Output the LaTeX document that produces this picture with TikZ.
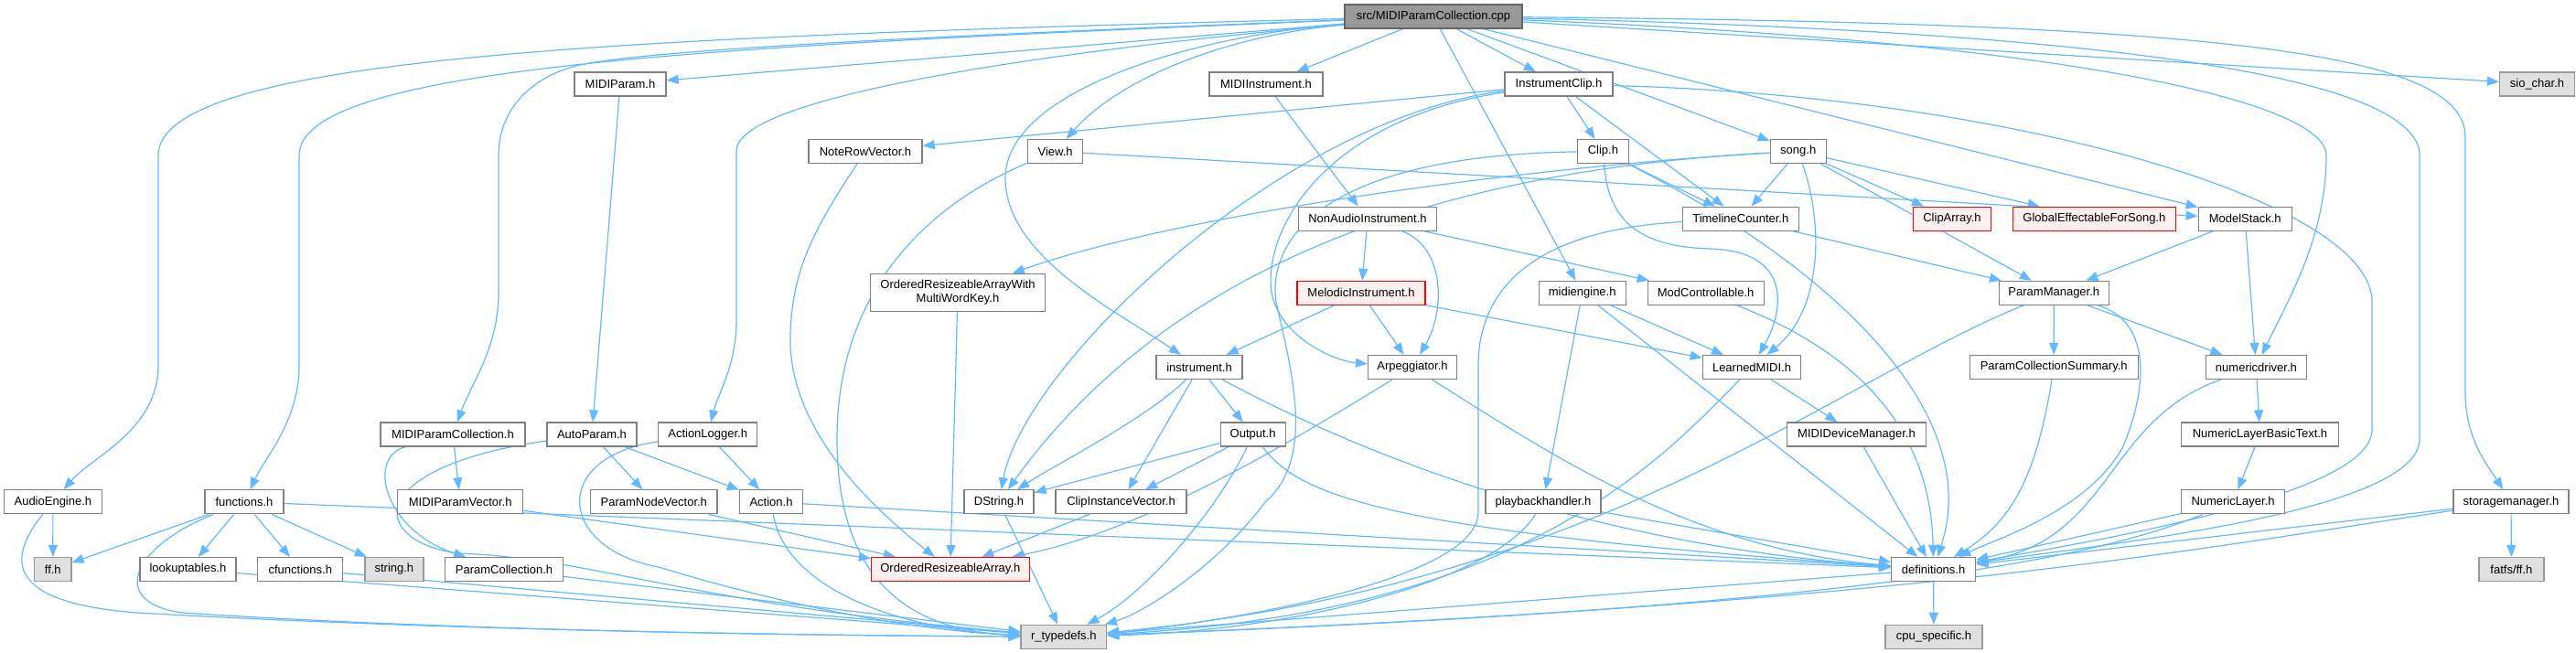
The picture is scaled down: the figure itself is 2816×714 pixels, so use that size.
\documentclass[tikz,border=0pt]{standalone}
\usepackage{fontspec}
\setmainfont{Liberation Sans}
\usetikzlibrary{arrows.meta}
\definecolor{edgec}{HTML}{63B8FF}
\definecolor{boxc}{HTML}{808080}
\definecolor{rootf}{HTML}{999999}
\definecolor{extf}{HTML}{E0E0E0}
\definecolor{extd}{HTML}{999999}
\definecolor{redf}{HTML}{FFF0F0}
\pgfdeclarelayer{edges}
\pgfsetlayers{edges,main}
\tikzset{
  box/.style={draw=boxc, fill=white, line width=1.2pt, minimum height=26pt, inner sep=0pt, font=\fontsize{13}{15}\selectfont},
  redbox/.style={box, draw=red, fill=redf},
  extbox/.style={box, draw=extd, fill=extf},
  rootbox/.style={box, draw=boxc!80!black, fill=rootf},
  e/.style={draw=edgec, line width=1.2pt, -{Triangle[length=13pt,width=10pt]}}
}
\begin{document}
\begin{tikzpicture}[x=1pt,y=-1pt]
\useasboundingbox (0,0) rectangle (2816,714);
% nodes
\node[rootbox, minimum width=194pt] (root) at (1567,18) {src/MIDIParamCollection.cpp};
\node[box, minimum width=100pt] (MIDIParam) at (678,92) {MIDIParam.h};
\node[box, minimum width=124pt] (MIDIInstrument) at (1384,92) {MIDIInstrument.h};
\node[box, minimum width=118pt] (InstrumentClip) at (1704,92) {InstrumentClip.h};
\node[extbox, minimum width=82pt] (sio) at (2773.5,92) {sio\_char.h};
\node[box, minimum width=124pt] (NoteRowVector) at (946,165.5) {NoteRowVector.h};
\node[box, minimum width=60pt] (View) at (1153.6,165.5) {View.h};
\node[box, minimum width=56pt] (Clip) at (1752.4,165.5) {Clip.h};
\node[box, minimum width=61pt] (song) at (1965.7,165.5) {song.h};
\node[box, minimum width=151pt] (NonAudio) at (1495,239.2) {NonAudioInstrument.h};
\node[box, minimum width=127pt] (Timeline) at (1902.8,239.2) {TimelineCounter.h};
\node[redbox, minimum width=85pt] (ClipArray) at (2134,239.2) {ClipArray.h};
\node[redbox, minimum width=178.6pt] (GlobalEff) at (2289.4,239.2) {GlobalEffectableForSong.h};
\node[box, minimum width=102pt] (ModelStack) at (2454.2,239.2) {ModelStack.h};
\node[box, minimum width=190.6pt, minimum height=41.4pt, align=center] (ORAW) at (1047,320) {OrderedResizeableArrayWith\\MultiWordKey.h};
\node[redbox, minimum width=140pt] (Melodic) at (1488,320.3) {MelodicInstrument.h};
\node[box, minimum width=95pt] (midiengine) at (1729.7,320.3) {midiengine.h};
\node[box, minimum width=127pt] (ModCtrl) at (1864.6,320.3) {ModControllable.h};
\node[box, minimum width=120pt] (ParamManager) at (2245.3,320.3) {ParamManager.h};
\node[box, minimum width=94pt] (instrument) at (1311,401.5) {instrument.h};
\node[box, minimum width=97pt] (Arp) at (1544,401.5) {Arpeggiator.h};
\node[box, minimum width=107.5pt] (Learned) at (1915,401.5) {LearnedMIDI.h};
\node[box, minimum width=184pt] (PCS) at (2245.2,401.5) {ParamCollectionSummary.h};
\node[box, minimum width=110pt] (numdrv) at (2466.4,401.5) {numericdriver.h};
\node[box, minimum width=158pt] (MPC) at (495,475) {MIDIParamCollection.h};
\node[box, minimum width=98pt] (AutoParam) at (647,475) {AutoParam.h};
\node[box, minimum width=108pt] (ActionLogger) at (773.7,475) {ActionLogger.h};
\node[box, minimum width=71pt] (Output) at (1369.6,475) {Output.h};
\node[box, minimum width=151.5pt] (MIDIDev) at (2029.5,475) {MIDIDeviceManager.h};
\node[box, minimum width=172pt] (NLBT) at (2470.5,475) {NumericLayerBasicText.h};
\node[box, minimum width=106.5pt] (AudioEngine) at (57.9,548.8) {AudioEngine.h};
\node[box, minimum width=86pt] (functions) at (267,548.8) {functions.h};
\node[box, minimum width=137pt] (MPV) at (503.2,548.8) {MIDIParamVector.h};
\node[box, minimum width=138.5pt] (PNV) at (714.8,548.8) {ParamNodeVector.h};
\node[box, minimum width=69pt] (Action) at (843,548.8) {Action.h};
\node[box, minimum width=76pt] (DString) at (1092,548.8) {DString.h};
\node[box, minimum width=143pt] (CIV) at (1225.5,548.8) {ClipInstanceVector.h};
\node[box, minimum width=126pt] (playback) at (1687,548.8) {playbackhandler.h};
\node[box, minimum width=112.5pt] (NumLayer) at (2441,548.8) {NumericLayer.h};
\node[box, minimum width=126pt] (storage) at (2745,548.8) {storagemanager.h};
\node[extbox, minimum width=40.4pt] (ff) at (57.8,622.5) {ff.h};
\node[box, minimum width=105pt] (lookup) at (205.5,622.5) {lookuptables.h};
\node[box, minimum width=93pt] (cfunc) at (328.3,622.5) {cfunctions.h};
\node[extbox, minimum width=64pt] (string) at (430.9,622.5) {string.h};
\node[box, minimum width=128.5pt] (PC) at (551,622.5) {ParamCollection.h};
\node[redbox, minimum width=172.7pt] (ORA) at (1038.8,622.5) {OrderedResizeableArray.h};
\node[box, minimum width=92pt] (defs) at (2113.6,622.5) {definitions.h};
\node[extbox, minimum width=71pt] (fatfs) at (2745.4,622.5) {fatfs/ff.h};
\node[extbox, minimum width=93.6pt] (rtd) at (1162.8,696.2) {r\_typedefs.h};
\node[extbox, minimum width=106pt] (cpu) at (2114,696.2) {cpu\_specific.h};
% edges
\begin{pgfonlayer}{edges}
% root
\draw[e] (root) .. controls (700,40) and (173,60) .. (173,170) -- (173,400) .. controls (173,470) and (100,500) .. (AudioEngine);
\draw[e] (root) .. controls (800,50) and (327,70) .. (327,170) -- (327,400) .. controls (327,460) and (290,500) .. (functions);
\draw[e] (root) .. controls (1000,40) and (700,55) .. (630,72) .. controls (580,85) and (545,120) .. (545,170) -- (545,320) .. controls (545,380) and (515,420) .. (MPC);
\draw[e] (root) -- (MIDIParam);
\draw[e] (root) .. controls (1100,60) and (805,110) .. (805,165) -- (805,350) .. controls (805,400) and (785,430) .. (ActionLogger);
\draw[e] (root) .. controls (1300,40) and (1099,100) .. (1099,195) .. controls (1099,280) and (1220,340) .. (instrument);
\draw[e] (root) .. controls (1330,40) and (1220,90) .. (View);
\draw[e] (root) -- (MIDIInstrument);
\draw[e] (root) -- (InstrumentClip);
\draw[e] (root) -- (midiengine);
\draw[e] (root) -- (song);
\draw[e] (root) -- (ModelStack);
\draw[e] (root) .. controls (2250,45) and (2543,110) .. (2543,170) .. controls (2543,260) and (2500,330) .. (numdrv);
\draw[e] (root) .. controls (2350,35) and (2645,90) .. (2645,170) -- (2645,480) .. controls (2645,560) and (2300,595) .. (defs);
\draw[e] (root) .. controls (2450,25) and (2695,60) .. (2695,150) -- (2695,430) .. controls (2695,480) and (2720,510) .. (storage);
\draw[e] (root) -- (sio);
% second level
\draw[e] (MIDIParam) -- (AutoParam);
\draw[e] (MIDIInstrument) -- (NonAudio);
\draw[e] (InstrumentClip) -- (NoteRowVector);
\draw[e] (InstrumentClip) -- (Clip);
\draw[e] (InstrumentClip) -- (Timeline);
\draw[e] (InstrumentClip) .. controls (1400,130) and (1120,400) .. (DString);
\draw[e] (InstrumentClip) .. controls (1450,130) and (1380,250) .. (1390,320) .. controls (1400,370) and (1460,395) .. (Arp);
\draw[e] (InstrumentClip) .. controls (2200,105) and (2593,220) .. (2593,330) -- (2593,470) .. controls (2593,540) and (2300,590) .. (defs);
\draw[e] (Clip) -- (Timeline);
\draw[e] (Clip) .. controls (1758,240) and (1790,270) .. (1870,272) .. controls (1960,275) and (1950,340) .. (Learned);
\draw[e] (Clip) .. controls (2000,290) and (2170,450) .. (defs);
\draw[e] (Clip) .. controls (1450,170) and (1385,260) .. (1395,330) .. controls (1410,400) and (1440,500) .. (1383,549) .. controls (1330,620) and (1250,670) .. (rtd);
\draw[e] (song) -- (Timeline);
\draw[e] (song) -- (ClipArray);
\draw[e] (song) -- (GlobalEff);
\draw[e] (song) -- (ParamManager);
\draw[e] (song) .. controls (1995,250) and (1990,340) .. (Learned);
\draw[e] (song) .. controls (1700,180) and (1300,230) .. (ORAW);
\draw[e] (song) .. controls (1500,190) and (1250,330) .. (DString);
\draw[e] (View) -- (ModelStack);
\draw[e] (View) .. controls (1000,230) and (915,330) .. (915,480) .. controls (915,640) and (1000,690) .. (rtd);
\draw[e] (NoteRowVector) .. controls (890,250) and (862,300) .. (864,380) .. controls (870,480) and (960,560) .. (ORA);
\draw[e] (ORAW) -- (ORA);
\draw[e] (Timeline) -- (ParamManager);
\draw[e] (Timeline) .. controls (1700,250) and (1616,300) .. (1616,400) -- (1616,560) .. controls (1616,640) and (1300,685) .. (rtd);
\draw[e] (NonAudio) -- (Melodic);
\draw[e] (NonAudio) .. controls (1580,270) and (1580,340) .. (Arp);
\draw[e] (NonAudio) -- (ModCtrl);
\draw[e] (Melodic) -- (instrument);
\draw[e] (Melodic) -- (Arp);
\draw[e] (Melodic) -- (Learned);
\draw[e] (midiengine) -- (playback);
\draw[e] (midiengine) -- (Learned);
\draw[e] (midiengine) -- (defs);
\draw[e] (ModCtrl) .. controls (1990,370) and (2110,440) .. (defs);
\draw[e] (ModelStack) -- (ParamManager);
\draw[e] (ModelStack) -- (numdrv);
\draw[e] (ParamManager) -- (PCS);
\draw[e] (ParamManager) -- (numdrv);
\draw[e] (ParamManager) .. controls (2350,350) and (2350,420) .. (2320,490) .. controls (2280,560) and (2180,590) .. (defs);
\draw[e] (ParamManager) .. controls (2000,420) and (1750,640) .. (rtd);
\draw[e] (instrument) -- (Output);
\draw[e] (instrument) .. controls (1250,460) and (1150,510) .. (DString);
\draw[e] (instrument) -- (CIV);
\draw[e] (instrument) .. controls (1550,530) and (1800,600) .. (defs);
\draw[e] (Output) -- (DString);
\draw[e] (Output) -- (CIV);
\draw[e] (Output) .. controls (1330,560) and (1250,650) .. (rtd);
\draw[e] (Output) .. controls (1420,540) and (1500,580) .. (defs);
\draw[e] (Arp) .. controls (1400,490) and (1250,580) .. (ORA);
\draw[e] (Arp) .. controls (1700,500) and (1850,600) .. (defs);
\draw[e] (Learned) -- (MIDIDev);
\draw[e] (Learned) .. controls (1800,520) and (1650,670) .. (rtd);
\draw[e] (MIDIDev) -- (defs);
\draw[e] (PCS) .. controls (2226,520) and (2200,570) .. (defs);
\draw[e] (numdrv) -- (NLBT);
\draw[e] (numdrv) .. controls (2300,460) and (2310,590) .. (defs);
\draw[e] (NLBT) -- (NumLayer);
\draw[e] (NumLayer) -- (defs);
\draw[e] (NumLayer) .. controls (2280,615) and (2000,665) .. (rtd);
\draw[e] (storage) -- (defs);
\draw[e] (storage) .. controls (2400,600) and (2100,660) .. (rtd);
\draw[e] (storage) -- (fatfs);
\draw[e] (MPC) -- (MPV);
\draw[e] (MPC) .. controls (400,500) and (420,580) .. (PC);
\draw[e] (AutoParam) -- (PNV);
\draw[e] (AutoParam) -- (Action);
\draw[e] (AutoParam) .. controls (400,510) and (400,590) .. (500,605) .. controls (650,610) and (750,660) .. (rtd);
\draw[e] (ActionLogger) -- (Action);
\draw[e] (ActionLogger) .. controls (600,500) and (610,600) .. (720,620) .. controls (850,660) and (1000,690) .. (rtd);
\draw[e] (AudioEngine) -- (ff);
\draw[e] (AudioEngine) .. controls (0,620) and (20,660) .. (150,670) .. controls (500,690) and (900,695) .. (rtd);
\draw[e] (functions) -- (ff);
\draw[e] (functions) -- (lookup);
\draw[e] (functions) -- (cfunc);
\draw[e] (functions) -- (string);
\draw[e] (functions) -- (defs);
\draw[e] (functions) .. controls (140,600) and (120,660) .. (200,670) .. controls (500,690) and (900,695) .. (rtd);
\draw[e] (MPV) -- (ORA);
\draw[e] (PNV) -- (ORA);
\draw[e] (Action) -- (defs);
\draw[e] (Action) .. controls (860,650) and (1000,690) .. (rtd);
\draw[e] (DString) -- (rtd);
\draw[e] (CIV) -- (ORA);
\draw[e] (playback) -- (defs);
\draw[e] (playback) .. controls (1630,640) and (1400,690) .. (rtd);
\draw[e] (lookup) -- (rtd);
\draw[e] (cfunc) -- (rtd);
\draw[e] (PC) -- (rtd);
\draw[e] (defs) -- (rtd);
\draw[e] (defs) -- (cpu);
\end{pgfonlayer}
\end{tikzpicture}
\end{document}
